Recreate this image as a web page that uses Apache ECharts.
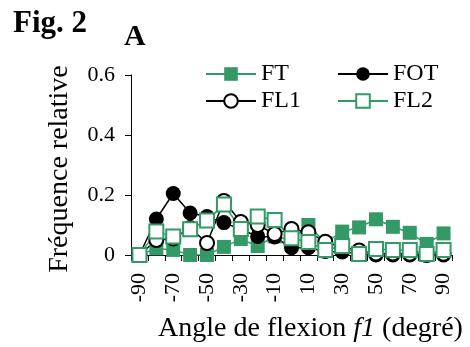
<!DOCTYPE html>
<html>
<head>
<meta charset="utf-8">
<script src="https://cdn.jsdelivr.net/npm/echarts@6/dist/echarts.min.js"></script>
<style>
  html, body { margin: 0; padding: 0; background: #fff; }
  #chart { width: 470px; height: 347px; }
</style>
</head>
<body>
<div id="chart"></div>
<script>
// flexion angle bins (degrees)
const angles = ['-90', '-80', '-70', '-60', '-50', '-40', '-30', '-20', '-10', '0',
                '10', '20', '30', '40', '50', '60', '70', '80', '90'];

// relative frequency per bin
const ft  = [0, 0.022, 0.017, 0, 0, 0.027, 0.053, 0.03, 0.062, 0.05, 0.1, 0.04, 0.078, 0.092, 0.119, 0.094, 0.074, 0.037, 0.072];
const fot = [0, 0.12, 0.205, 0.14, 0.128, 0.108, 0.085, 0.062, 0.06, 0.024, 0.024, 0.012, 0.01, 0.005, 0, 0, 0, 0, 0];
const fl1 = [0, 0.05, 0.055, 0.09, 0.04, 0.18, 0.11, 0.1, 0.07, 0.087, 0.076, 0.044, 0.025, 0.015, 0.005, 0.005, 0.004, 0, 0.004];
const fl2 = [0, 0.078, 0.062, 0.086, 0.115, 0.168, 0.087, 0.128, 0.117, 0.056, 0.043, 0.017, 0.03, 0.003, 0.02, 0.017, 0.017, 0.003, 0.017];

const green = '#339966';
const serif = 'Liberation Serif';

const chart = echarts.init(document.getElementById('chart'), null, { renderer: 'canvas' });

function lineSeries(name, data, color, symbol, size, filled) {
  return {
    name: name,
    type: 'line',
    data: data,
    symbol: symbol,
    symbolSize: size,
    showAllSymbol: true,
    lineStyle: { color: color, width: 1.5 },
    itemStyle: filled
      ? { color: color, borderColor: color, borderWidth: 0 }
      : { color: '#fff', borderColor: color, borderWidth: 2 },
    emphasis: { disabled: true },
    animation: false
  };
}

const legendText = { fontFamily: serif, fontSize: 24, color: '#000' };

chart.setOption({
  animation: false,
  title: [
    { text: 'Fig. 2', left: 13, top: 8, padding: 0,
      textStyle: { fontFamily: serif, fontSize: 31, fontWeight: 'bold', color: '#000' } },
    { text: 'A', left: 124, top: 22, padding: 0,
      textStyle: { fontFamily: serif, fontSize: 30, fontWeight: 'bold', color: '#000' } }
  ],
  legend: [
    { data: ['FT', 'FL1'], orient: 'vertical', left: 205, top: 62, padding: 0,
      itemWidth: 50, itemHeight: 17, itemGap: 3, textStyle: legendText },
    { data: ['FOT', 'FL2'], orient: 'vertical', left: 337, top: 62, padding: 0,
      itemWidth: 50, itemHeight: 17, itemGap: 3, textStyle: legendText }
  ],
  grid: { left: 131, right: 18, top: 75, bottom: 92, outerBoundsMode: 'none' },
  xAxis: {
    type: 'category',
    data: angles,
    boundaryGap: true,
    name: 'Angle de flexion {it|f1} (degré)',
    nameLocation: 'middle',
    nameGap: 60,
    nameTextStyle: {
      fontFamily: serif, fontSize: 28, color: '#000', padding: [0, 0, 0, 38],
      rich: { it: { fontFamily: serif, fontSize: 28, fontStyle: 'italic', color: '#000' } }
    },
    axisLine: { lineStyle: { color: '#000', width: 1 } },
    axisTick: { show: true, interval: 0, length: 6, lineStyle: { color: '#000' } },
    axisLabel: { interval: 1, rotate: 90, margin: 18, fontFamily: serif, fontSize: 22, color: '#000' },
    splitLine: { show: false }
  },
  yAxis: {
    type: 'value',
    min: 0, max: 0.6, interval: 0.2,
    name: 'Fréquence relative',
    nameLocation: 'middle',
    nameGap: 57,
    nameTextStyle: { fontFamily: serif, fontSize: 28, color: '#000', padding: [0, 8, 0, 0] },
    axisLine: { show: true, lineStyle: { color: '#000', width: 1 } },
    axisTick: { show: true, length: 6, lineStyle: { color: '#000' } },
    axisLabel: { margin: 16, fontFamily: serif, fontSize: 22, color: '#000',
      formatter: v => (v === 0 ? '0' : v.toFixed(1)) },
    splitLine: { show: false }
  },
  series: [
    lineSeries('FT', ft, green, 'rect', 14, true),
    lineSeries('FOT', fot, '#000', 'circle', 15, true),
    lineSeries('FL1', fl1, '#000', 'circle', 14, false),
    lineSeries('FL2', fl2, green, 'rect', 14, false)
  ]
});
</script>
</body>
</html>
